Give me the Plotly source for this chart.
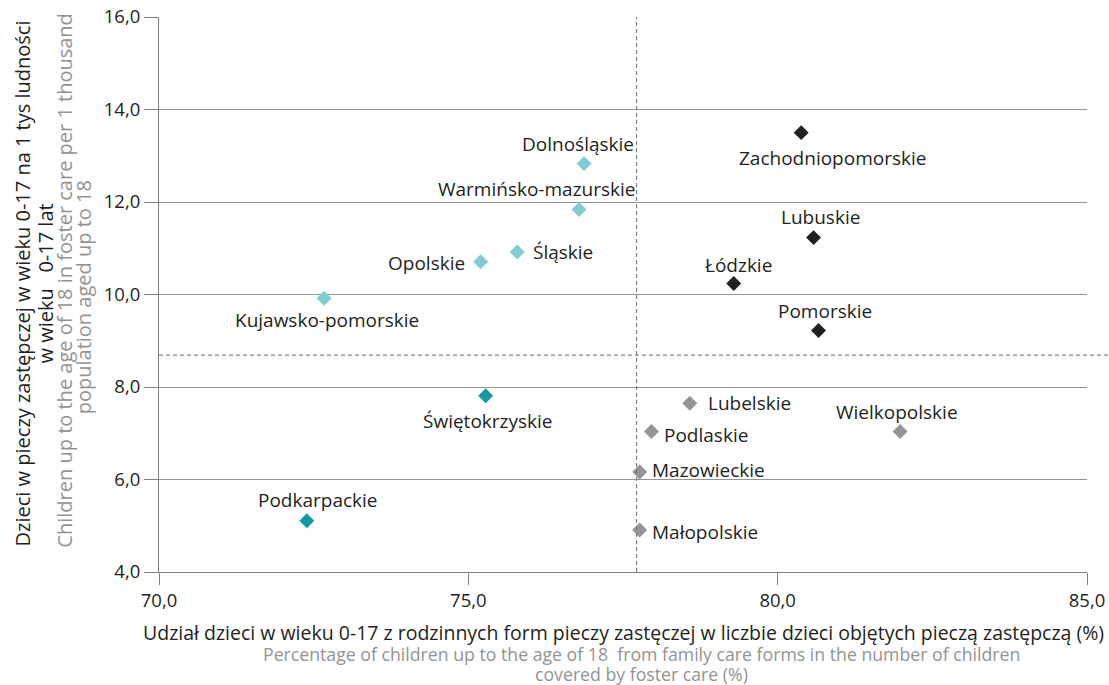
import plotly.graph_objects as go

# ---------------- data ----------------
regions = ["Dolnośląskie", "Warmińsko-mazurskie", "Śląskie", "Opolskie", "Kujawsko-pomorskie",
           "Świętokrzyskie", "Podkarpackie",
           "Zachodniopomorskie", "Lubuskie", "Łódzkie", "Pomorskie",
           "Lubelskie", "Podlaskie", "Wielkopolskie", "Mazowieckie", "Małopolskie"]
family_share = [76.87, 76.79, 75.79, 75.20, 72.67,
                75.28, 72.39,
                80.38, 80.58, 79.29, 80.66,
                78.58, 77.96, 81.98, 77.77, 77.77]
per_thousand = [12.83, 11.84, 10.92, 10.71, 9.92,
                7.81, 5.11,
                13.50, 11.23, 10.24, 9.22,
                7.65, 7.04, 7.04, 6.16, 4.91]
group = ["A", "A", "A", "A", "A",
         "B", "B",
         "C", "C", "C", "C",
         "D", "D", "D", "D", "D"]
mean_x = 77.72
mean_y = 8.69
x_ticks = [70, 75, 80, 85]
y_ticks = [4, 6, 8, 10, 12, 14, 16]

x_title_pl = "Udział dzieci w wieku 0-17 z rodzinnych form pieczy zast\u0119czej w liczbie dzieci obj\u0119tych piecz\u0105 zast\u0119pcz\u0105 (%)"
x_title_en = ["Percentage of children up to the age of 18  from family care forms in the number of children",
              "covered by foster care (%)"]
y_title_pl = ["Dzieci w pieczy zastępczej w wieku 0-17 na 1 tys ludności", "w wieku   0-17 lat"]
y_title_en = ["Children up to the age of 18 in foster care per 1 thousand", "population aged up to 18"]

# ---------------- styles ----------------
GROUP_COLORS = {"A": "#7fcdd2", "B": "#1399a3", "C": "#231f20", "D": "#939598"}
FONT = "Open Sans"
TEXT = "#231f20"
GRAY_TEXT = "#939393"
# label placement relative to marker: (xanchor, xshift px, yshift px)
LABEL_POS = {
    "Dolnośląskie": ("center", -6, 20),
    "Warmińsko-mazurskie": ("center", -43, 20),
    "Śląskie": ("left", 14, 0),
    "Opolskie": ("right", -14, -1),
    "Kujawsko-pomorskie": ("center", 3, -22),
    "Świętokrzyskie": ("center", 2, -25),
    "Podkarpackie": ("center", 11, 21),
    "Zachodniopomorskie": ("center", 31, -25),
    "Lubuskie": ("center", 7, 21),
    "Łódzkie": ("center", 5, 18),
    "Pomorskie": ("center", 6, 20),
    "Lubelskie": ("left", 16, 0),
    "Podlaskie": ("left", 11, -4),
    "Wielkopolskie": ("center", -3, 19),
    "Mazowieckie": ("left", 10, 2),
    "Małopolskie": ("left", 10, -2),
}

fig = go.Figure()
for g in ["A", "B", "C", "D"]:
    idx = [i for i, gg in enumerate(group) if gg == g]
    fig.add_trace(go.Scatter(
        x=[family_share[i] for i in idx],
        y=[per_thousand[i] for i in idx],
        mode="markers",
        marker=dict(symbol="diamond", size=11.5, color=GROUP_COLORS[g], line=dict(width=0)),
        showlegend=False, hoverinfo="skip", cliponaxis=False,
    ))

annotations = []
for name, xv, yv in zip(regions, family_share, per_thousand):
    anchor, dx, dy = LABEL_POS[name]
    annotations.append(dict(
        x=xv, y=yv, xref="x", yref="y", text=name, showarrow=False,
        xanchor=anchor, yanchor="middle", xshift=dx, yshift=dy,
        font=dict(family=FONT, size=19, color=TEXT),
    ))

# axis titles (pixel offsets from plot-area edges)
annotations.append(dict(xref="paper", yref="paper", x=0.5, y=0, xanchor="center", yanchor="middle",
                        yshift=-60, text=x_title_pl, showarrow=False,
                        font=dict(family=FONT, size=19.5, color=TEXT)))
for line, dy in zip(x_title_en, [-82, -102]):
    annotations.append(dict(xref="paper", yref="paper", x=0.5, y=0, xanchor="center", yanchor="middle",
                            xshift=18, yshift=dy, text=line, showarrow=False,
                            font=dict(family=FONT, size=17.7, color=GRAY_TEXT)))
for line, dx in zip(y_title_pl, [-137, -114]):
    annotations.append(dict(xref="paper", yref="paper", x=0, y=0.52, xanchor="center", yanchor="middle",
                            xshift=dx, text=line, textangle=-90, showarrow=False,
                            font=dict(family=FONT, size=20, color=TEXT)))
for line, dx, yy in zip(y_title_en, [-94, -76], [0.525, 0.495]):
    annotations.append(dict(xref="paper", yref="paper", x=0, y=yy, xanchor="center", yanchor="middle",
                            xshift=dx, text=line, textangle=-90, showarrow=False,
                            font=dict(family=FONT, size=20, color=GRAY_TEXT)))

shapes = [
    dict(type="line", xref="x", yref="paper", x0=mean_x, x1=mean_x, y0=0, y1=1,
         line=dict(color="#6d6d6d", width=1, dash="4px,3px")),
    dict(type="line", xref="paper", yref="y", x0=0, x1=1.03, y0=mean_y, y1=mean_y,
         line=dict(color="#6d6d6d", width=1, dash="4px,3px")),
]

fig.update_layout(
    width=1109, height=685,
    margin=dict(l=159, r=22, t=17, b=113),
    paper_bgcolor="white", plot_bgcolor="white",
    separators=", ",
    font=dict(family=FONT, size=19, color=TEXT),
    xaxis=dict(range=[70, 85], tickvals=x_ticks, tickformat=".1f", automargin=False,
               showgrid=False, zeroline=False, showline=True, linecolor="#808080", linewidth=1,
               ticks="outside", ticklen=12, tickcolor="#808080", tickwidth=1,
               tickfont=dict(family=FONT, size=18.5, color=TEXT), fixedrange=True),
    yaxis=dict(range=[4, 16], tickvals=y_ticks, tickformat=".1f", automargin=False,
               showgrid=True, gridcolor="#959595", gridwidth=1, zeroline=False,
               showline=True, linecolor="#808080", linewidth=1,
               ticks="outside", ticklen=14, tickcolor="#808080", tickwidth=1,
               tickfont=dict(family=FONT, size=18.5, color=TEXT), fixedrange=True),
    annotations=annotations,
    shapes=shapes,
)

fig.write_html("out.html", config={"displayModeBar": False},
               post_script="document.body.style.margin='0px';")
